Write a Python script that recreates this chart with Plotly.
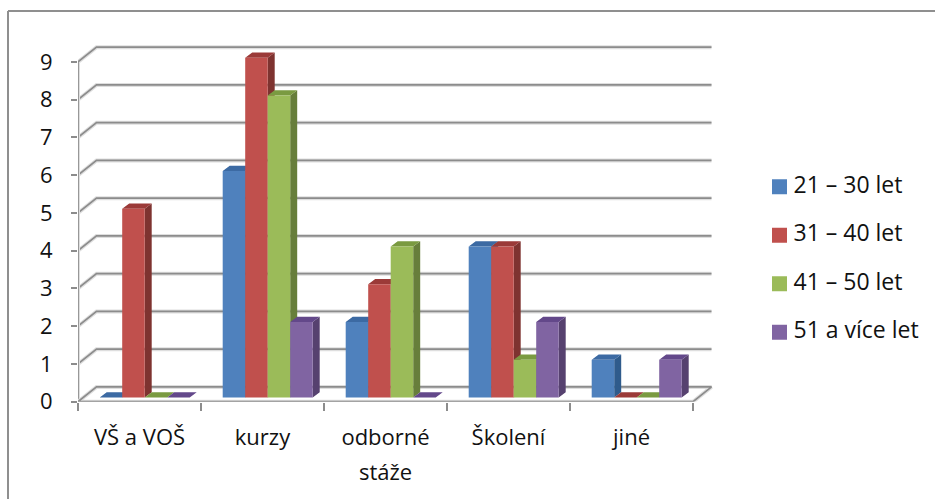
import plotly.graph_objects as go

# Počty odpovědí podle formy vzdělávání a věkové skupiny
categories = ["VŠ a VOŠ", "kurzy", "odborné<br>stáže", "Školení", "jiné"]
age_21_30 = [0, 6, 2, 4, 1]
age_31_40 = [5, 9, 3, 4, 0]
age_41_50 = [0, 8, 4, 1, 0]
age_51_up = [0, 2, 0, 2, 1]
series_names = ["21 – 30 let", "31 – 40 let", "41 – 50 let", "51 a více let"]
y_ticks = list(range(10))

FONT = "'Open Sans', sans-serif"
W, H = 935, 499

# Pixel geometry of the front plane of the pseudo-3D box
X0, Y0 = 78.0, 401.7
UX, UY = 123.0, 37.75
PLOT_R, PLOT_T = 720.0, 40.0

# Depth of the box and of a single column, in data units
WALL_DX, WALL_DY = 18.5 / UX, 14.8 / UY
BAR_DX, BAR_DY = 7.0 / UX, 5.2 / UY
BAR_W = 22.5 / UX
GROUP_START = 21.7 / UX
BAR_FLOOR = 4.2 / UY

GRID = "#8c8c8c"
HALO = "#dedede"
FRONT = ["#4F81BD", "#C0504D", "#9BBB59", "#8064A2"]
SIDE = ["#2F5B8C", "#7E3330", "#677E3B", "#56416F"]
TOP = ["#3C6AA3", "#9B3A38", "#7A9A41", "#63488A"]
VALUES = [age_21_30, age_31_40, age_41_50, age_51_up]

fig = go.Figure()


def frame_line(xs, ys):
    # Box lines carry a pale halo under the darker stroke
    for color, width in ((HALO, 4), (GRID, 1.7)):
        fig.add_trace(go.Scatter(x=xs, y=ys, mode="lines", showlegend=False,
                                 hoverinfo="skip", cliponaxis=False,
                                 line=dict(color=color, width=width)))


n = len(categories)
# Gridlines run from the front edge over the side wall and along the back wall
for v in y_ticks[1:]:
    frame_line([0, WALL_DX, n + WALL_DX], [v, v + WALL_DY, v + WALL_DY])
# Vertical axis edge and the floor outline
frame_line([0, 0], [0, y_ticks[-1]])
frame_line([0, WALL_DX, n + WALL_DX, n, 0], [0, WALL_DY, WALL_DY, 0, 0])


def faces(values, s):
    front_x, front_y, side_x, side_y, top_x, top_y = [], [], [], [], [], []
    for c, v in enumerate(values):
        x0 = c + GROUP_START + s * BAR_W
        x1 = x0 + BAR_W
        y0 = BAR_FLOOR
        y1 = y0 + v
        front_x += [x0, x1, x1, x0, x0, None]
        front_y += [y0, y0, y1, y1, y0, None]
        side_x += [x1, x1 + BAR_DX, x1 + BAR_DX, x1, x1, None]
        side_y += [y0, y0 + BAR_DY, y1 + BAR_DY, y1, y0, None]
        top_x += [x0, x1, x1 + BAR_DX, x0 + BAR_DX, x0, None]
        top_y += [y1, y1, y1 + BAR_DY, y1 + BAR_DY, y1, None]
    return (front_x, front_y), (side_x, side_y), (top_x, top_y)


for s, values in enumerate(VALUES):
    front, side, top = faces(values, s)
    for (xs, ys), color in ((side, SIDE[s]), (top, TOP[s]), (front, FRONT[s])):
        fig.add_trace(go.Scatter(x=xs, y=ys, mode="lines", fill="toself",
                                 fillcolor=color, line=dict(width=0, color=color),
                                 name=series_names[s], showlegend=False,
                                 hoverinfo="skip", cliponaxis=False))

# Key on its own small axes (x counts pixels from the swatch centre), one row per age group
for i, name in enumerate(series_names):
    fig.add_trace(go.Scatter(x=[0], y=[i], mode="markers", xaxis="x2", yaxis="y2",
                             marker=dict(symbol="square", size=15, color=FRONT[i]),
                             name=name, showlegend=False, hoverinfo="skip",
                             cliponaxis=False))
    fig.add_trace(go.Scatter(x=[14], y=[i], mode="text", text=[name],
                             textposition="middle right", xaxis="x2", yaxis="y2",
                             textfont=dict(family=FONT, size=23, color="#111111"),
                             name=name, showlegend=False, hoverinfo="skip",
                             cliponaxis=False))

tick_style = dict(color="#111111", family=FONT, size=22)

# The wrapped category label keeps the chart's own line spacing, so its
# second line is placed as a separate annotation below the tick label
first_lines = [c.split("<br>")[0] for c in categories]
second_lines = [
    dict(x=i + 0.5, xref="x", y=1 - 470.5 / H, yref="paper", text=c.split("<br>")[1],
         showarrow=False, font=tick_style, xanchor="center", yanchor="middle")
    for i, c in enumerate(categories) if "<br>" in c
]

fig.update_layout(
    width=W, height=H,
    autosize=False,
    margin=dict(l=0, r=0, t=0, b=0, pad=0),
    paper_bgcolor="white", plot_bgcolor="white",
    showlegend=False,
    annotations=second_lines,
    xaxis=dict(
        domain=[X0 / W, PLOT_R / W],
        range=[0, (PLOT_R - X0) / UX],
        tickvals=[i + 0.5 for i in range(n)],
        ticktext=first_lines,
        ticks="", showgrid=False, zeroline=False, showline=False,
        tickfont=tick_style, ticklabelstandoff=20,
        minor=dict(tickvals=list(range(n + 1)), ticks="outside", ticklen=8,
                   tickcolor=GRID, tickwidth=1.7, showgrid=False),
        fixedrange=True, automargin=False,
    ),
    yaxis=dict(
        domain=[1 - Y0 / H, 1 - PLOT_T / H],
        range=[0, (Y0 - PLOT_T) / UY],
        tickvals=y_ticks,
        ticks="outside", ticklen=6, tickcolor=GRID, tickwidth=1.7,
        showgrid=False, zeroline=False, showline=False,
        tickfont=tick_style, ticklabelstandoff=14,
        fixedrange=True, automargin=False,
    ),
    xaxis2=dict(domain=[769.5 / W, 935 / W], range=[-10, 155.5], visible=False,
                anchor="y2", fixedrange=True),
    yaxis2=dict(domain=[1 - 356.5 / H, 1 - 162.5 / H], range=[3.5, -0.5], visible=False,
                anchor="x2", fixedrange=True),
    # Outer chart border: top and left edges only
    shapes=[
        dict(type="line", xref="paper", yref="paper", x0=8 / W, x1=1,
             y0=1 - 11 / H, y1=1 - 11 / H, line=dict(color="#8f8f8f", width=2)),
        dict(type="line", xref="paper", yref="paper", x0=8 / W, x1=8 / W,
             y0=0, y1=1 - 11 / H, line=dict(color="#8f8f8f", width=2)),
    ],
)

fig.write_html("out.html", config=dict(displayModeBar=False))
